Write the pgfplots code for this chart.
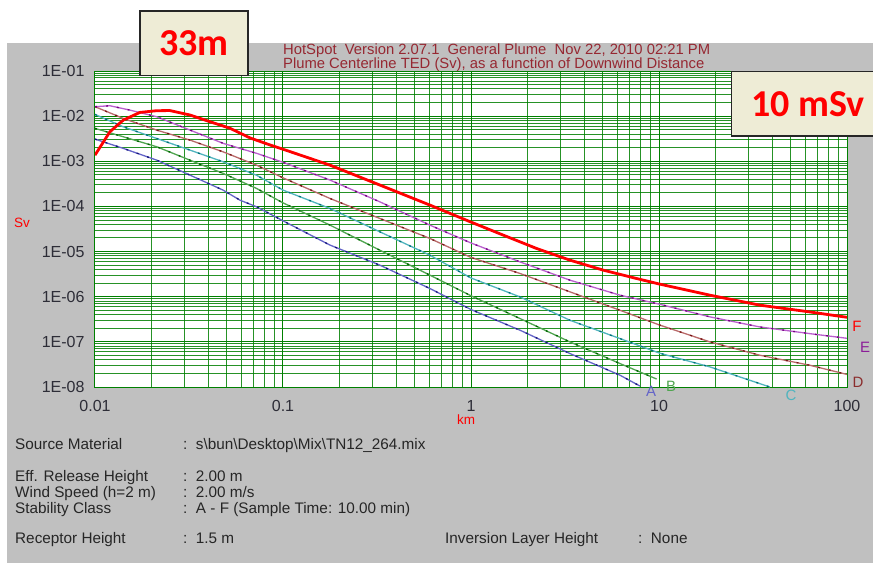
\documentclass[border=0pt]{standalone}
\usepackage{fontspec}
\setmainfont{Liberation Sans}
\newfontfamily\carlito{Carlito}
\usepackage{pgfplots}
\usepackage{pgfplotstable}
\pgfplotsset{compat=1.18}
\definecolor{bg}{RGB}{192,192,192}
\definecolor{boxfill}{RGB}{238,236,214}
\definecolor{titlered}{RGB}{150,40,50}
\definecolor{gridgreen}{RGB}{0,128,0}
\definecolor{cF}{RGB}{255,0,0}
\definecolor{cE}{RGB}{185,95,205}
\definecolor{cEd}{RGB}{120,0,130}
\definecolor{cD}{RGB}{185,105,105}
\definecolor{cDd}{RGB}{120,20,20}
\definecolor{cC}{RGB}{80,180,190}
\definecolor{cCd}{RGB}{0,110,120}
\definecolor{cB}{RGB}{80,165,80}
\definecolor{cBd}{RGB}{0,100,0}
\definecolor{cA}{RGB}{100,100,200}
\definecolor{cAd}{RGB}{20,20,120}
\definecolor{ticktext}{RGB}{45,45,55}

\pgfplotstableread{
x y
0.01 1.37e-3
0.012 4.5e-3
0.01415 8.2e-3
0.01735 1.21e-2
0.0213 1.32e-2
0.025 1.33e-2
0.032 1.06e-2
0.041 7.5e-3
0.0522 5.4e-3
0.0667 3.3e-3
0.0853 2.3e-3
0.1 1.85e-3
0.178 8.2e-4
0.328 2.97e-4
0.605 1.07e-4
1.0 4.5e-5
1.486 2.31e-5
2.234 1.17e-5
3.365 6.45e-6
5.06 3.87e-6
7.6 2.53e-6
10.1 1.9e-6
18.7 1.08e-6
34.4 6.5e-7
63.5 4.6e-7
100 3.5e-7
}\dataF

\pgfplotstableread{
x y
0.01 1.62e-2
0.012 1.7e-2
0.01535 1.36e-2
0.0213 9.7e-3
0.032 4.92e-3
0.048 2.5e-3
0.0724 1.5e-3
0.1 9.5e-4
0.178 3.83e-4
0.328 1.26e-4
0.605 3.85e-5
1.0 1.55e-5
1.824 5.9e-6
3.365 2.32e-6
6.21 1.08e-6
10.1 6.8e-7
18.7 3.57e-7
34.4 2.14e-7
63.5 1.52e-7
100 1.2e-7
}\dataE

\pgfplotstableread{
x y
0.01 1.62e-2
0.01415 8.9e-3
0.0213 4.9e-3
0.032 2.95e-3
0.048 1.62e-3
0.0724 8.2e-4
0.1 4.3e-4
0.178 1.5e-4
0.328 5.4e-5
0.605 1.95e-5
1.0 7.4e-6
1.824 3.27e-6
3.365 1.28e-6
6.21 5.0e-7
10.1 2.35e-7
18.7 9.95e-8
34.4 5.05e-8
63.5 3.03e-8
100 1.9e-8
}\dataD

\pgfplotstableread{
x y
0.01 1.09e-2
0.01415 5.8e-3
0.0213 3.2e-3
0.032 1.77e-3
0.048 9.75e-4
0.0724 4.9e-4
0.1 2.3e-4
0.178 9.0e-5
0.328 2.73e-5
0.605 8.3e-6
1.0 2.6e-6
1.824 9.9e-7
3.365 3.0e-7
6.21 1.18e-7
10.1 5.6e-8
18.7 2.78e-8
38.9 1.0e-8
}\dataC

\pgfplotstableread{
x y
0.01 5.36e-3
0.01415 3.49e-3
0.0213 2.1e-3
0.032 1.06e-3
0.048 5.4e-4
0.0724 2.5e-4
0.1 1.2e-4
0.178 3.85e-5
0.328 1.07e-5
0.605 3.0e-6
1.0 1.05e-6
1.824 3.28e-7
3.365 9.95e-8
6.21 3.3e-8
9.72 1.5e-8
}\dataB

\pgfplotstableread{
x y
0.01 3.1e-3
0.01415 1.93e-3
0.0213 1.06e-3
0.032 4.94e-4
0.048 2.3e-4
0.059 1.38e-4
0.0724 9.8e-5
0.1 4.8e-5
0.178 1.39e-5
0.328 4.99e-6
0.605 1.52e-6
1.0 5.2e-7
1.824 1.81e-7
3.365 5.5e-8
6.21 1.82e-8
7.92 1.05e-8
}\dataA

\begin{document}
\begin{tikzpicture}[x=1pt,y=1pt]
\useasboundingbox (0,0) rectangle (873,563);
\fill[white] (0,0) rectangle (873,563);
\fill[bg] (7,0) rectangle (873,520);

% title
\node[anchor=base west, text=titlered, font=\fontsize{14.8}{15}\selectfont, inner sep=0pt] at (283,508.5) {HotSpot\ \ Version 2.07.1\ \ General Plume\ \ Nov 22, 2010 02:21 PM};
\node[anchor=base west, text=titlered, font=\fontsize{14.8}{15}\selectfont, inner sep=0pt] at (283,494.5) {Plume Centerline TED (Sv), as a function of Downwind Distance};

\begin{axis}[
  at={(95pt,176pt)}, anchor=south west,
  scale only axis, width=752pt, height=316pt,
  xmode=log, ymode=log,
  xmin=0.01, xmax=100, ymin=1e-8, ymax=1e-1,
  axis background/.style={fill=white},
  axis line style={gridgreen, line width=1pt},
  xtick={0.01,0.1,1,10,100},
  xticklabels={0.01,0.1,1,10,100},
  ytick={1e-8,1e-7,1e-6,1e-5,1e-4,1e-3,1e-2,1e-1},
  yticklabels={1E-08,1E-07,1E-06,1E-05,1E-04,1E-03,1E-02,1E-01},
  minor xtick={0.02,0.03,0.04,0.05,0.06,0.07,0.08,0.09,0.2,0.3,0.4,0.5,0.6,0.7,0.8,0.9,2,3,4,5,6,7,8,9,20,30,40,50,60,70,80,90},
  minor ytick={2e-8,3e-8,4e-8,5e-8,6e-8,7e-8,8e-8,9e-8,2e-7,3e-7,4e-7,5e-7,6e-7,7e-7,8e-7,9e-7,2e-6,3e-6,4e-6,5e-6,6e-6,7e-6,8e-6,9e-6,2e-5,3e-5,4e-5,5e-5,6e-5,7e-5,8e-5,9e-5,2e-4,3e-4,4e-4,5e-4,6e-4,7e-4,8e-4,9e-4,2e-3,3e-3,4e-3,5e-3,6e-3,7e-3,8e-3,9e-3,2e-2,3e-2,4e-2,5e-2,6e-2,7e-2,8e-2,9e-2},
  major tick length=0pt, minor tick length=0pt,
  grid=both,
  major grid style={gridgreen, line width=1pt},
  minor grid style={gridgreen, line width=1pt, opacity=0.85},
  tick label style={font=\fontsize{16}{16}\selectfont, text=ticktext},
  yticklabel style={xshift=-7pt},
  xticklabel style={yshift=-10pt},
  clip=true,
]
\addplot[cA, line width=1.3pt] table {\dataA};
\addplot[cAd, line width=1.3pt, dash pattern=on 2pt off 9pt] table {\dataA};
\addplot[cB, line width=1.3pt] table {\dataB};
\addplot[cBd, line width=1.3pt, dash pattern=on 2pt off 9pt] table {\dataB};
\addplot[cC, line width=1.3pt] table {\dataC};
\addplot[cCd, line width=1.3pt, dash pattern=on 2pt off 9pt] table {\dataC};
\addplot[cD, line width=1.3pt] table {\dataD};
\addplot[cDd, line width=1.3pt, dash pattern=on 2pt off 9pt] table {\dataD};
\addplot[cE, line width=1.3pt] table {\dataE};
\addplot[cEd, line width=1.3pt, dash pattern=on 2pt off 9pt] table {\dataE};
\addplot[cF, line width=2.8pt, line join=round] table {\dataF};
\end{axis}

% axis labels
\node[text=red, font=\fontsize{13.5}{14}\selectfont] at (22,340) {Sv};
\node[text=red, font=\fontsize{13.5}{14}\selectfont, inner sep=1pt] at (466,143) {km};

% curve labels
\node[text=cF, font=\fontsize{15}{15}\selectfont] at (857,237) {F};
\node[text=cEd!70!cE, font=\fontsize{15}{15}\selectfont] at (865,216) {E};
\node[text=cDd!70!cD, font=\fontsize{15}{15}\selectfont] at (858,181) {D};
\node[text=cC, font=\fontsize{15}{15}\selectfont] at (791,168) {C};
\node[text=cB, font=\fontsize{15}{15}\selectfont] at (671,177) {B};
\node[text=cA, font=\fontsize{15}{15}\selectfont, inner sep=0pt] at (651,171.5) {A};

% boxes
\filldraw[fill=boxfill, draw=black!85, line width=1.5pt] (140,552) rectangle (248,487.5);
\node[text=red, font=\carlito\bfseries\fontsize{38}{38}\selectfont] at (194,520) {33m};
\fill[boxfill] (731.5,491.5) rectangle (873,427);
\draw[black!85, line width=1.5pt] (873,491.5) -- (731.5,491.5) -- (731.5,427) -- (873,427);
\node[text=red, font=\carlito\bfseries\fontsize{38}{38}\selectfont] at (808,459) {10 mSv};

% bottom info
\begin{scope}[every node/.style={anchor=base west, inner sep=0pt, text=black!85, font=\fontsize{15.3}{16}\selectfont}]
\node at (15,114) {Source Material};
\node at (183,114) {:\ \ s\textbackslash bun\textbackslash Desktop\textbackslash Mix\textbackslash TN12\_264.mix};
\node at (15,82) {Eff. Release Height};
\node at (183,82) {:\ \ 2.00 m};
\node at (15,66) {Wind Speed (h=2 m)};
\node at (183,66) {:\ \ 2.00 m/s};
\node at (15,50) {Stability Class};
\node at (183,50) {:\ \ A - F (Sample Time: 10.00 min)};
\node at (15,20) {Receptor Height};
\node at (183,20) {:\ \ 1.5 m};
\node at (445,20) {Inversion Layer Height};
\node at (638,20) {:\ \ None};
\end{scope}
\end{tikzpicture}
\end{document}
